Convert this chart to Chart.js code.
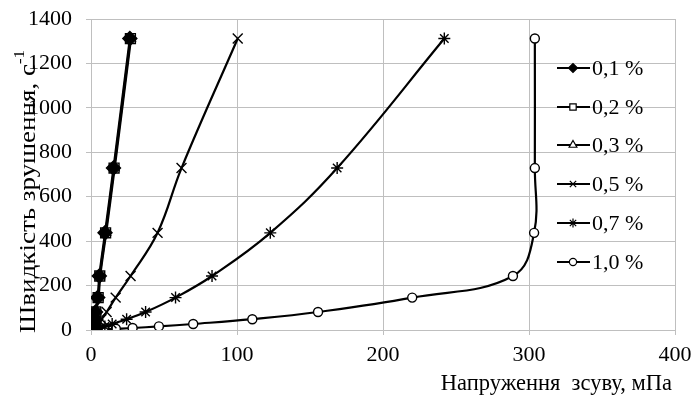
<!DOCTYPE html>
<html>
<head>
<meta charset="utf-8">
<script src="https://cdn.jsdelivr.net/npm/chart.js@4/dist/chart.umd.min.js"></script>
<style>
  html, body { margin: 0; padding: 0; background: #fff; }
  #wrap { width: 694px; height: 401px; }
</style>
</head>
<body>
<div id="wrap"><canvas id="chart" width="694" height="401"></canvas></div>
<script>
// Shear rate steps of the viscometer, s^-1 (shared by all series)
const shearRate = [1.8, 3, 5.4, 9, 16.2, 27, 48.6, 81, 145.8, 243, 437.4, 729, 1312];

// Shear stress, mPa, for each concentration
const stress01 = [0.3, 0.5, 0.8, 1.2, 1.7, 2.3, 2.9, 3.1, 4.6, 5.7, 9.6, 15.4, 26.6];
const stress02 = [0.4, 0.6, 0.9, 1.3, 1.9, 2.5, 3.1, 3.3, 4.9, 6.0, 10.0, 15.8, 27.0];
const stress03 = [0.5, 0.7, 1.0, 1.4, 2.0, 2.7, 3.3, 3.5, 5.2, 6.3, 10.4, 16.2, 27.4];
const stress05 = [0.6, 1.0, 1.6, 2.4, 3.6, 5.0, 7.2, 10.7, 16.9, 27.1, 45.6, 62.0, 100.5];
const stress07 = [1.5, 2.5, 4.0, 6.0, 9.5, 14.5, 24.4, 37.4, 57.9, 82.9, 122.8, 168.6, 242.0];
const stress10 = [5.0, 9.0, 17.0, 28.5, 46.5, 70.0, 110.5, 155.5, 220.0, 289.0, 303.5, 304.0, 304.0];

const seriesLabels = ['0,1 %', '0,2 %', '0,3 %', '0,5 %', '0,7 %', '1,0 %'];
const xTicks = [0, 100, 200, 300, 400];
const yTicks = [0, 200, 400, 600, 800, 1000, 1200, 1400];

const FONT = "'Liberation Serif', 'Times New Roman', serif";

function toPoints(xs) {
  return xs.map((x, i) => ({ x: x, y: shearRate[i] }));
}

function series(label, xs, style, radius, fill) {
  return {
    label: label,
    data: toPoints(xs),
    showLine: true,
    borderColor: '#000',
    borderWidth: 2.2,
    tension: 0.4,
    pointStyle: style,
    pointRadius: radius,
    pointHoverRadius: radius,
    pointBorderWidth: 1.4,
    pointBorderColor: '#000',
    pointBackgroundColor: fill,
    backgroundColor: fill
  };
}

const datasets = [
  series(seriesLabels[0], stress01, 'rectRot', 7, '#000'),
  series(seriesLabels[1], stress02, 'rect', 7, '#fff'),
  series(seriesLabels[2], stress03, 'triangle', 5, '#fff'),
  series(seriesLabels[3], stress05, 'crossRot', 7, '#fff'),
  series(seriesLabels[4], stress07, 'star', 6, '#fff'),
  series(seriesLabels[5], stress10, 'circle', 4.5, '#fff')
];

// Legend inside the plot on the right, plus axis titles (y title has a superscript)
const decor = {
  id: 'decor',
  afterDraw(chart) {
    const ctx = chart.ctx;
    ctx.save();

    // legend
    const ys = [68, 107, 145, 184, 223, 262];
    chart.data.datasets.forEach((ds, i) => {
      const y = ys[i];
      ctx.strokeStyle = '#000';
      ctx.lineWidth = 2.2;
      ctx.beginPath();
      ctx.moveTo(557, y);
      ctx.lineTo(590, y);
      ctx.stroke();
      ctx.lineWidth = 1.2;
      ctx.fillStyle = ds.pointBackgroundColor;
      Chart.helpers.drawPoint(ctx, {
        pointStyle: ds.pointStyle,
        radius: ds.pointStyle === 'circle' ? 3.6 : 4.5,
        rotation: 0,
        borderWidth: 1.2
      }, 573, y);
      ctx.fillStyle = '#000';
      ctx.font = '22px ' + FONT;
      ctx.textAlign = 'left';
      ctx.textBaseline = 'middle';
      ctx.fillText(ds.label, 592, y + 1);
    });

    // x title
    ctx.fillStyle = '#000';
    ctx.font = '22.5px ' + FONT;
    ctx.textAlign = 'right';
    ctx.textBaseline = 'middle';
    ctx.fillText('Напруження  зсуву, мПа', 672, 384);

    // y title, rotated, with superscript "-1", spanning y 333..50
    const main = 'Швидкість зрушення, с';
    const sup = '-1';
    ctx.font = '22.5px ' + FONT;
    const wMain = ctx.measureText(main).width;
    ctx.font = '14px ' + FONT;
    const wSup = ctx.measureText(sup).width;
    const total = wMain + wSup;
    const stretch = 283 / total;
    ctx.translate(29, 191.5);
    ctx.rotate(-Math.PI / 2);
    ctx.scale(stretch, 1);
    ctx.textAlign = 'left';
    ctx.textBaseline = 'middle';
    ctx.font = '22.5px ' + FONT;
    ctx.fillText(main, -total / 2, 0);
    ctx.font = '14px ' + FONT;
    ctx.fillText(sup, -total / 2 + wMain, -9);

    ctx.restore();
  }
};

new Chart(document.getElementById('chart'), {
  type: 'scatter',
  data: { datasets: datasets },
  plugins: [decor],
  options: {
    responsive: false,
    animation: false,
    layout: { padding: { top: 19, right: 19, left: 0, bottom: 0 } },
    plugins: {
      legend: { display: false },
      tooltip: { enabled: false }
    },
    scales: {
      x: {
        type: 'linear',
        min: 0,
        max: 400,
        afterBuildTicks: (scale) => { scale.ticks = xTicks.map(v => ({ value: v })); },
        afterFit: (scale) => {
          scale.height = 71;
          scale.paddingLeft = 0;
          scale.paddingRight = 0;
        },
        ticks: {
          color: '#000',
          padding: 7,
          maxRotation: 0,
          callback: (v) => String(v),
          font: { family: FONT, size: 22 }
        },
        grid: { color: '#bfbfbf', lineWidth: 1, tickLength: 5 },
        border: { color: '#bfbfbf' }
      },
      y: {
        type: 'linear',
        min: 0,
        max: 1400,
        afterBuildTicks: (scale) => { scale.ticks = yTicks.map(v => ({ value: v })); },
        afterFit: (scale) => {
          scale.width = 91;
          scale.paddingTop = 0;
          scale.paddingBottom = 0;
        },
        ticks: {
          color: '#000',
          padding: 14,
          callback: (v) => String(v),
          font: { family: FONT, size: 22 }
        },
        grid: { color: '#bfbfbf', lineWidth: 1, tickLength: 5 },
        border: { color: '#bfbfbf' }
      }
    }
  }
});
</script>
</body>
</html>
